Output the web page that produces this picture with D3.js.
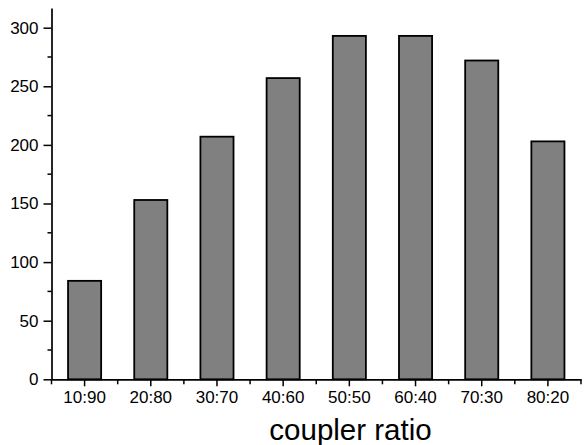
<!DOCTYPE html>
<html>
<head>
<meta charset="utf-8">
<script src="https://cdn.jsdelivr.net/npm/d3@7"></script>
<style>
  html, body { margin: 0; padding: 0; background: #fff; }
  svg { display: block; }
  text { font-family: "Liberation Sans", Arial, sans-serif; fill: #000; }
</style>
</head>
<body>
<svg id="chart" width="586" height="445"></svg>
<script>
const categories = ["10:90", "20:80", "30:70", "40:60", "50:50", "60:40", "70:30", "80:20"];
const values = [84, 153, 207, 257, 293, 293, 272, 203];
const yTicks = [0, 50, 100, 150, 200, 250, 300];
const yMinorTicks = [25, 75, 125, 175, 225, 275];
const xTitle = "coupler ratio";

const svg = d3.select("#chart");
const x0 = 51.5, x1 = 581, yBottom = 379.3, yTop = 8;

const x = d3.scaleBand().domain(categories).range([x0, x1]).padding(0);
const y = d3.scaleLinear().domain([0, 316.8]).range([yBottom, yTop]);

// bars
const bw = x.bandwidth() / 2;
svg.append("g").selectAll("rect").data(values).join("rect")
  .attr("x", (d, i) => x(categories[i]) + x.bandwidth() / 2 - bw / 2)
  .attr("y", d => y(d))
  .attr("width", bw)
  .attr("height", d => y(0) - y(d))
  .attr("fill", "#808080")
  .attr("stroke", "#000")
  .attr("stroke-width", 1.8);

// y axis
const yAxis = svg.append("g").attr("transform", `translate(${x0},0)`)
  .call(d3.axisLeft(y).tickValues(yTicks).tickSize(8).tickPadding(5).tickSizeOuter(0));
yAxis.select(".domain").attr("stroke-width", 1.7);
yAxis.selectAll(".tick line").attr("stroke-width", 1.5);
yAxis.selectAll("text").style("font-size", "17px");
yAxis.append("g").selectAll("line").data(yMinorTicks).join("line")
  .attr("x1", -4).attr("x2", 0)
  .attr("y1", d => y(d)).attr("y2", d => y(d))
  .attr("stroke", "#000").attr("stroke-width", 1.5);

// x axis
const xAxis = svg.append("g").attr("transform", `translate(0,${yBottom})`)
  .call(d3.axisBottom(x).tickSize(7).tickPadding(5).tickSizeOuter(0));
xAxis.select(".domain").attr("stroke-width", 1.7);
xAxis.selectAll(".tick line").attr("stroke-width", 1.5);
xAxis.selectAll("text").style("font-size", "17px");
const boundaries = categories.map(c => x(c)).concat([x1]);
xAxis.append("g").selectAll("line").data(boundaries).join("line")
  .attr("x1", d => d).attr("x2", d => d)
  .attr("y1", 0).attr("y2", 5)
  .attr("stroke", "#000").attr("stroke-width", 1.5);

// x title
svg.append("text")
  .attr("x", 350.5).attr("y", 440)
  .attr("text-anchor", "middle")
  .style("font-size", "29.5px")
  .text(xTitle);
</script>
</body>
</html>
